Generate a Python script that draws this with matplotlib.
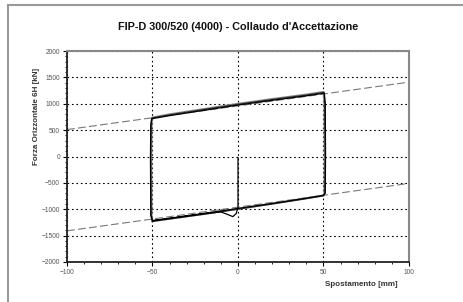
import numpy as np
import matplotlib.pyplot as plt
from matplotlib.lines import Line2D

plt.rcParams['font.family'] = ['Liberation Sans', 'DejaVu Sans']

# Hysteresis cycles (displacement mm, force kN)
cyc1_x = [0, 0, -1, -3, -6, -10, -20, -40, -50, -51, -51.2, -51, -50.5,
          -40, -20, 0, 20, 40, 50.5, 51, 51.2, 51, 50, 40, 20, 0, -20, -40, -50]
cyc1_y = [-20, -960, -1080, -1140, -1100, -1050, -1085, -1175, -1220, -1120, 0, 600, 715,
          775, 875, 975, 1065, 1150, 1200, 1000, 0, -690, -735, -790, -890, -985, -1080, -1170, -1215]

cyc2_x = [-50, -50.8, -51, -50.8, -50.3, -40, -20, 0, 20, 40, 50.3, 50.8, 51, 50.8, 50,
          40, 20, 0, -20, -40, -50]
cyc2_y = [-1215, -1110, 0, 610, 730, 790, 890, 990, 1080, 1165, 1215, 1010, 0, -700, -745,
          -800, -900, -1000, -1095, -1185, -1230]

cyc3_x = [-50, -50.5, -50.7, -50.5, -50, -40, -20, 0, 20, 40, 50, 50.5, 50.7, 50.5, 49.8,
          40, 20, 0, -20, -40, -50]
cyc3_y = [-1230, -1120, 0, 620, 740, 800, 900, 1000, 1090, 1175, 1225, 1020, 0, -705, -740,
          -790, -895, -990, -1090, -1180, -1225]

# Dashed envelope lines
env_x = [-100, 100]
env_up = [510, 1410]
env_lo = [-1410, -510]

x_ticks = [-100, -50, 0, 50, 100]
y_ticks = [-2000, -1500, -1000, -500, 0, 500, 1000, 1500, 2000]

fig = plt.figure(figsize=(4.64, 3.02), dpi=100)
ax = fig.add_axes([67 / 464, 1 - 262 / 302, 342 / 464, 211 / 302])

ax.plot(env_x, env_up, color='#777777', lw=0.8, dashes=(7, 3))
ax.plot(env_x, env_lo, color='#777777', lw=0.8, dashes=(7, 3))

ax.plot(cyc3_x, cyc3_y, color='#888888', lw=1.4)
ax.plot(cyc2_x, cyc2_y, color='#333333', lw=0.9)
ax.plot(cyc1_x, cyc1_y, color='black', lw=0.9)

ax.set_xlim(-100, 100)
ax.set_ylim(-2000, 2000)
ax.set_xticks(x_ticks)
ax.set_yticks(y_ticks)
ax.set_xticks(np.arange(-100, 101, 10), minor=True)
ax.set_yticks(np.arange(-2000, 2001, 100), minor=True)
ax.tick_params(which='major', length=3, width=0.8, labelsize=4.8, labelcolor='#555555', pad=2)
ax.tick_params(which='minor', length=1.5, width=0.6)

ax.grid(True, which='major', color='black', linestyle=(0, (1.5, 2.5)), lw=0.8)

for s in ['left', 'bottom']:
    ax.spines[s].set_linewidth(1.3)
    ax.spines[s].set_color('#222222')
for s in ['top', 'right']:
    ax.spines[s].set_linewidth(1.5)
    ax.spines[s].set_color('#888888')

fig.text(238 / 464, 1 - 27 / 302, "FIP-D 300/520 (4000) - Collaudo d'Accettazione",
         ha='center', va='center', fontsize=7.8, fontweight='bold', color='#111111')
fig.text(37 / 464, 1 - 116 / 302, 'Forza Orizzontale 6H [kN]', rotation=90,
         ha='center', va='center', fontsize=5.8, fontweight='bold', color='#333333')
fig.text(361 / 464, 1 - 285 / 302, 'Spostamento [mm]',
         ha='center', va='center', fontsize=5.8, fontweight='bold', color='#333333')

# outer frame (partially visible)
fig.add_artist(Line2D([7.5 / 464, 7.5 / 464], [0, 1 - 5 / 302], color='#999999', lw=1.5))
fig.add_artist(Line2D([7.5 / 464, 1], [1 - 5 / 302, 1 - 5 / 302], color='#999999', lw=1.5))

fig.savefig('out.png', dpi=100)
